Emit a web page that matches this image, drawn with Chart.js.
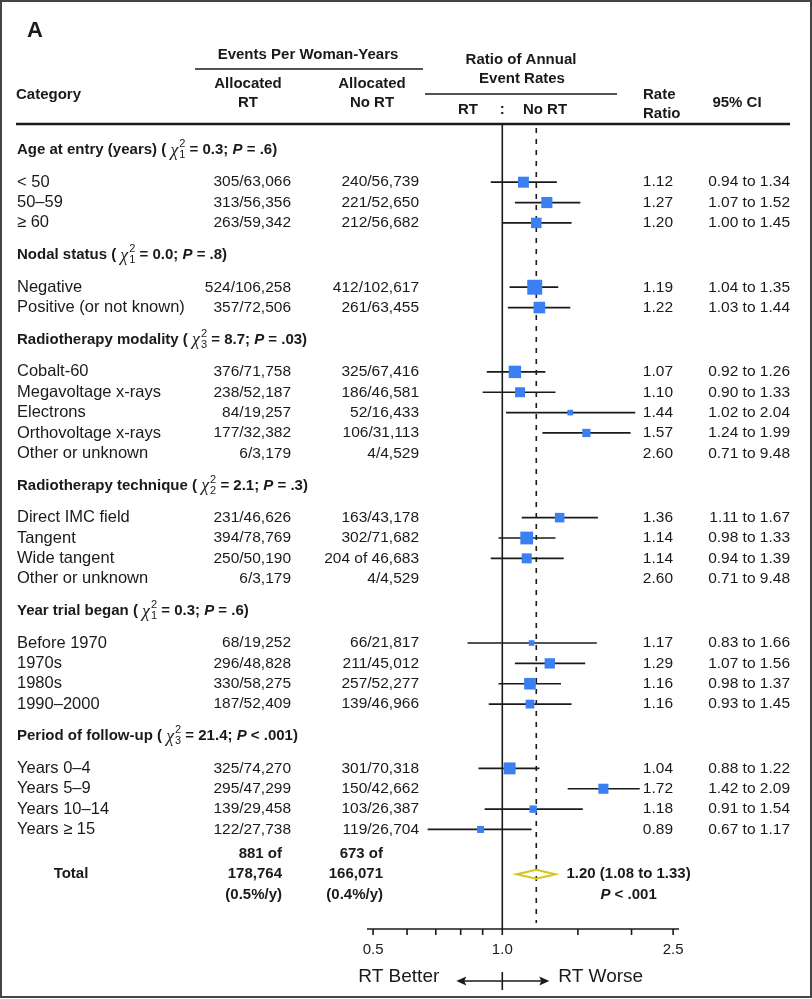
<!DOCTYPE html>
<html>
<head>
<meta charset="utf-8">
<script src="https://cdn.jsdelivr.net/npm/chart.js@4.4.1/dist/chart.umd.min.js"></script>
<style>
  html, body { margin: 0; padding: 0; background: #fff; }
  #wrap { width: 812px; height: 999px; }
</style>
</head>
<body>
<div id="wrap"><canvas id="forest" width="812" height="999"></canvas></div>
<script>
// Subgroups and their heterogeneity tests
const groupNames = ["Age at entry (years)", "Nodal status", "Radiotherapy modality", "Radiotherapy technique", "Year trial began", "Period of follow-up"]
const groupDf = ["1", "1", "3", "2", "1", "3"]
const groupChi = ["0.3", "0.0", "8.7", "2.1", "0.3", "21.4"]
const groupP = ["= .6", "= .8", "= .03", "= .3", "= .6", "< .001"]
const groupCounts = [3, 2, 5, 4, 4, 4]

// One entry per row
const categories = ["< 50", "50–59", "≥ 60", "Negative", "Positive (or not known)", "Cobalt-60", "Megavoltage x-rays", "Electrons", "Orthovoltage x-rays", "Other or unknown", "Direct IMC field", "Tangent", "Wide tangent", "Other or unknown", "Before 1970", "1970s", "1980s", "1990–2000", "Years 0–4", "Years 5–9", "Years 10–14", "Years ≥ 15"]
const rtEvents = ["305/63,066", "313/56,356", "263/59,342", "524/106,258", "357/72,506", "376/71,758", "238/52,187", "84/19,257", "177/32,382", "6/3,179", "231/46,626", "394/78,769", "250/50,190", "6/3,179", "68/19,252", "296/48,828", "330/58,275", "187/52,409", "325/74,270", "295/47,299", "139/29,458", "122/27,738"]
const noRtEvents = ["240/56,739", "221/52,650", "212/56,682", "412/102,617", "261/63,455", "325/67,416", "186/46,581", "52/16,433", "106/31,113", "4/4,529", "163/43,178", "302/71,682", "204 of 46,683", "4/4,529", "66/21,817", "211/45,012", "257/52,277", "139/46,966", "301/70,318", "150/42,662", "103/26,387", "119/26,704"]
const rateRatio = [1.12, 1.27, 1.20, 1.19, 1.22, 1.07, 1.10, 1.44, 1.57, 2.60, 1.36, 1.14, 1.14, 2.60, 1.17, 1.29, 1.16, 1.16, 1.04, 1.72, 1.18, 0.89]
const ciLow = [0.94, 1.07, 1.00, 1.04, 1.03, 0.92, 0.90, 1.02, 1.24, 0.71, 1.11, 0.98, 0.94, 0.71, 0.83, 1.07, 0.98, 0.93, 0.88, 1.42, 0.91, 0.67]
const ciHigh = [1.34, 1.52, 1.45, 1.35, 1.44, 1.26, 1.33, 2.04, 1.99, 9.48, 1.67, 1.33, 1.39, 9.48, 1.66, 1.56, 1.37, 1.45, 1.22, 2.09, 1.54, 1.17]

// Overall result
const totalRt = ["881 of", "178,764", "(0.5%/y)"]
const totalNoRt = ["673 of", "166,071", "(0.4%/y)"]
const totalRatio = 1.20
const totalLow = 1.08
const totalHigh = 1.33
const totalP = "< .001"

// Axis
const axisTicks = [0.5, 0.6, 0.7, 0.8, 0.9, 1.0, 1.5, 2.0, 2.5]
const axisLabels = ["0.5", "1.0", "2.5"]
const axisLabelValues = [0.5, 1.0, 2.5]
const xMin = 0.484
const xMax = 2.58

const SANS = '"Liberation Sans", Arial, Helvetica, sans-serif'
const INK = "#1a1a1a"
const BLUE = "#3b80f2"

function font(size, weight, style) {
  return `${style || "normal"} ${weight || "normal"} ${size}px ${SANS}`
}

// Vertical layout in row units (headers get extra space)
const rowY = []
const headY = []
let u = 1.23
groupCounts.forEach((n, g) => {
  if (g > 0) u += 1.58
  headY.push(u)
  u += 1.58
  for (let i = 0; i < n; i++) {
    if (i > 0) u += 1
    rowY.push(u)
  }
})
const totalY = u + 2.2

// Square side follows the precision of the estimate
const onScale = rateRatio.map(r => r >= xMin && r <= xMax)
const radii = rateRatio.map((r, i) => {
  if (!onScale[i]) return 0
  const side = Math.max(4, 3.9 / Math.log(ciHigh[i] / ciLow[i]))
  return side / Math.SQRT2
})

function drawText(ctx, str, x, y, f, align) {
  ctx.font = f
  ctx.textAlign = align || "left"
  ctx.textBaseline = "middle"
  ctx.fillStyle = INK
  ctx.fillText(str, x, y)
}

function drawGroupHeader(ctx, g, x, y) {
  const bold = font(15, "bold")
  ctx.textAlign = "left"
  ctx.textBaseline = "middle"
  ctx.fillStyle = INK
  let cx = x
  const put = (str, f, dy) => {
    ctx.font = f
    ctx.fillText(str, cx, y + (dy || 0))
    return ctx.measureText(str).width
  }
  cx += put(groupNames[g] + " ( ", bold)
  cx += put("χ", 'italic normal 18px "Liberation Serif", "DejaVu Serif", serif', 1)
  const small = font(11)
  ctx.font = small
  const w1 = ctx.measureText("2").width
  ctx.fillText("2", cx + 1, y - 6)
  ctx.fillText(groupDf[g], cx + 1, y + 5)
  cx += Math.max(w1, ctx.measureText(groupDf[g]).width) + 1
  cx += put(" = " + groupChi[g] + "; ", bold)
  cx += put("P", font(15, "bold", "italic"))
  put(" " + groupP[g] + ")", bold)
}

const forestPlugin = {
  id: "forest",
  beforeDraw(chart) {
    const ctx = chart.ctx
    ctx.save()
    ctx.fillStyle = "#fff"
    ctx.fillRect(0, 0, chart.width, chart.height)
    ctx.restore()
  },
  beforeDatasetsDraw(chart) {
    const ctx = chart.ctx
    const xs = chart.scales.x
    const ys = chart.scales.y
    const area = chart.chartArea
    ctx.save()

    // line of no effect
    const x1 = xs.getPixelForValue(1)
    ctx.strokeStyle = INK
    ctx.lineWidth = 1.6
    ctx.beginPath()
    ctx.moveTo(x1, area.top)
    ctx.lineTo(x1, area.bottom)
    ctx.stroke()

    // overall estimate
    const xt = xs.getPixelForValue(totalRatio)
    ctx.setLineDash([5, 6])
    ctx.lineWidth = 1.6
    ctx.beginPath()
    ctx.moveTo(xt, area.top + 3)
    ctx.lineTo(xt, area.bottom - 6)
    ctx.stroke()
    ctx.setLineDash([])

    // confidence intervals
    ctx.lineWidth = 1.7
    ctx.strokeStyle = INK
    rateRatio.forEach((r, i) => {
      if (!onScale[i]) return
      const y = ys.getPixelForValue(rowY[i])
      ctx.beginPath()
      ctx.moveTo(xs.getPixelForValue(Math.max(ciLow[i], xMin)), y)
      ctx.lineTo(xs.getPixelForValue(Math.min(ciHigh[i], xMax)), y)
      ctx.stroke()
    })

    // total diamond
    const yt = ys.getPixelForValue(totalY)
    ctx.strokeStyle = "#d6c61c"
    ctx.lineWidth = 2
    ctx.beginPath()
    ctx.moveTo(xs.getPixelForValue(totalLow), yt)
    ctx.lineTo(xt, yt - 4.5)
    ctx.lineTo(xs.getPixelForValue(totalHigh), yt)
    ctx.lineTo(xt, yt + 4.5)
    ctx.closePath()
    ctx.stroke()
    ctx.restore()
  },
  afterDraw(chart) {
    const ctx = chart.ctx
    const xs = chart.scales.x
    const ys = chart.scales.y
    const area = chart.chartArea
    ctx.save()

    // column headings
    drawText(ctx, "A", 27, 31, font(22, "bold"))
    const hb = font(15, "bold")
    drawText(ctx, "Events Per Woman-Years", 308, 55, hb, "center")
    drawText(ctx, "Allocated", 248, 84, hb, "center")
    drawText(ctx, "RT", 248, 103, hb, "center")
    drawText(ctx, "Allocated", 372, 84, hb, "center")
    drawText(ctx, "No RT", 372, 103, hb, "center")
    drawText(ctx, "Category", 16, 95, hb)
    drawText(ctx, "Ratio of Annual", 521, 60, hb, "center")
    drawText(ctx, "Event Rates", 522, 79, hb, "center")
    drawText(ctx, "RT", 468, 110, hb, "center")
    drawText(ctx, ":", xs.getPixelForValue(1), 110, hb, "center")
    drawText(ctx, "No RT", 545, 110, hb, "center")
    drawText(ctx, "Rate", 643, 95, hb)
    drawText(ctx, "Ratio", 643, 114, hb)
    drawText(ctx, "95% CI", 737, 103, hb, "center")

    ctx.strokeStyle = INK
    ctx.lineWidth = 1.5
    ctx.beginPath()
    ctx.moveTo(195, 69); ctx.lineTo(423, 69)
    ctx.moveTo(425, 94); ctx.lineTo(617, 94)
    ctx.stroke()
    ctx.lineWidth = 2.5
    ctx.beginPath()
    ctx.moveTo(16, 124); ctx.lineTo(790, 124)
    ctx.stroke()

    // group headers
    headY.forEach((h, g) => drawGroupHeader(ctx, g, 17, ys.getPixelForValue(h)))

    // rows
    const cf = font(16.5)
    const rf = font(15.5)
    categories.forEach((c, i) => {
      const y = ys.getPixelForValue(rowY[i])
      drawText(ctx, c, 17, y, cf)
      drawText(ctx, rtEvents[i], 291, y, rf, "right")
      drawText(ctx, noRtEvents[i], 419, y, rf, "right")
      drawText(ctx, rateRatio[i].toFixed(2), 673, y, rf, "right")
      drawText(ctx, ciLow[i].toFixed(2) + " to " + ciHigh[i].toFixed(2), 790, y, rf, "right")
    })

    // total row
    const yt = ys.getPixelForValue(totalY)
    drawText(ctx, "Total", 71, yt, hb, "center")
    totalRt.forEach((t, k) => drawText(ctx, t, 282, yt + (k - 1) * 20.3, hb, "right"))
    totalNoRt.forEach((t, k) => drawText(ctx, t, 383, yt + (k - 1) * 20.3, hb, "right"))
    const label = totalRatio.toFixed(2) + " (" + totalLow.toFixed(2) + " to " + totalHigh.toFixed(2) + ")"
    const lx = xs.getPixelForValue(totalHigh) + 11
    drawText(ctx, label, lx, yt, hb)
    ctx.font = hb
    const lw = ctx.measureText(label).width
    ctx.font = font(15, "bold", "italic")
    const pw = ctx.measureText("P").width
    ctx.font = hb
    const rest = " " + totalP
    const rw = ctx.measureText(rest).width
    const px0 = lx + lw / 2 - (pw + rw) / 2
    drawText(ctx, "P", px0, yt + 20.3, font(15, "bold", "italic"))
    drawText(ctx, rest, px0 + pw, yt + 20.3, hb)

    // x axis
    const ay = area.bottom
    ctx.strokeStyle = INK
    ctx.lineWidth = 1.6
    ctx.beginPath()
    ctx.moveTo(area.left, ay)
    ctx.lineTo(area.right, ay)
    axisTicks.forEach(v => {
      const x = xs.getPixelForValue(v)
      ctx.moveTo(x, ay)
      ctx.lineTo(x, ay + 6)
    })
    ctx.stroke()
    axisLabelValues.forEach((v, k) => drawText(ctx, axisLabels[k], xs.getPixelForValue(v), ay + 21, font(15), "center"))

    // direction arrow
    const x1 = xs.getPixelForValue(1)
    const arY = ay + 52
    drawText(ctx, "RT Better", x1 - 63, ay + 48, font(19), "right")
    drawText(ctx, "RT Worse", x1 + 56, ay + 48, font(19))
    ctx.lineWidth = 1.6
    ctx.beginPath()
    ctx.moveTo(x1 - 43, arY); ctx.lineTo(x1 + 44, arY)
    ctx.moveTo(x1, arY - 9); ctx.lineTo(x1, arY + 9)
    ctx.stroke()
    ctx.fillStyle = INK
    ctx.beginPath()
    ctx.moveTo(x1 - 46, arY); ctx.lineTo(x1 - 36, arY - 4.5); ctx.lineTo(x1 - 38, arY); ctx.lineTo(x1 - 36, arY + 4.5)
    ctx.closePath(); ctx.fill()
    ctx.beginPath()
    ctx.moveTo(x1 + 47, arY); ctx.lineTo(x1 + 37, arY - 4.5); ctx.lineTo(x1 + 39, arY); ctx.lineTo(x1 + 37, arY + 4.5)
    ctx.closePath(); ctx.fill()

    // frame
    ctx.strokeStyle = "#444"
    ctx.lineWidth = 2
    ctx.strokeRect(1, 1, chart.width - 2, chart.height - 3)
    ctx.restore()
  }
}

new Chart(document.getElementById("forest").getContext("2d"), {
  type: "scatter",
  data: {
    datasets: [{
      data: rateRatio.map((r, i) => ({ x: r, y: rowY[i] })),
      pointStyle: "rect",
      pointRadius: radii,
      pointHoverRadius: radii,
      pointBackgroundColor: BLUE,
      pointBorderWidth: 0,
      showLine: false
    }]
  },
  options: {
    responsive: false,
    animation: false,
    devicePixelRatio: 1,
    layout: { padding: { left: 367, right: 133, top: 125, bottom: 70 } },
    plugins: { legend: { display: false }, tooltip: { enabled: false } },
    scales: {
      x: { type: "logarithmic", min: xMin, max: xMax, bounds: "data", display: false },
      y: { type: "linear", min: 0, max: 39.5, reverse: true, display: false }
    }
  },
  plugins: [forestPlugin]
})
</script>
</body>
</html>
